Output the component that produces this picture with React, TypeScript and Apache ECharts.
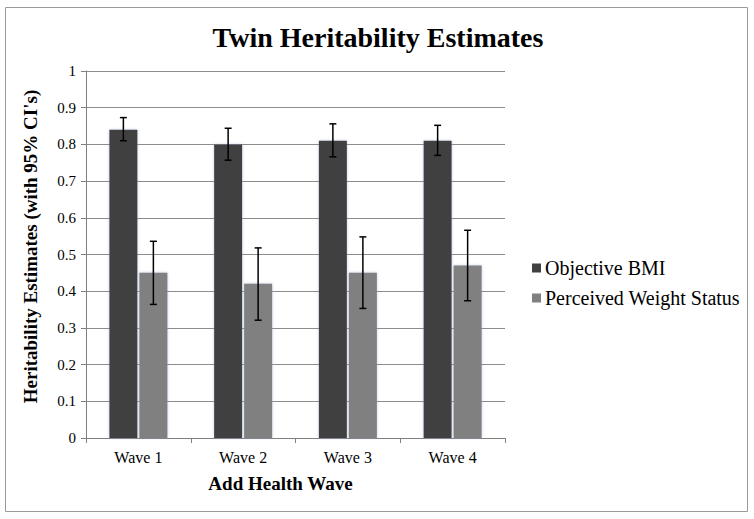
import React, { useEffect, useRef } from "react";
import * as echarts from "echarts";

const categories = ["Wave 1", "Wave 2", "Wave 3", "Wave 4"];
const objectiveBMI = [0.84, 0.8, 0.81, 0.81];
const objectiveLow = [0.81, 0.757, 0.766, 0.77];
const objectiveHigh = [0.873, 0.844, 0.856, 0.852];
const perceived = [0.45, 0.42, 0.45, 0.47];
const perceivedLow = [0.364, 0.321, 0.353, 0.374];
const perceivedHigh = [0.536, 0.518, 0.548, 0.566];
const seriesNames = ["Objective BMI", "Perceived Weight Status"];

const SERIF = "'Liberation Serif', 'Times New Roman', serif";
const BAR_W = 28;
const BAR_GAP_PX = 2;

export default function App() {
  const ref = useRef<HTMLDivElement>(null);
  useEffect(() => {
    if (!ref.current) return;
    const chart = echarts.init(ref.current, null, { renderer: "svg" });

    const makeErr = (low: number[], high: number[], side: number) => ({
      type: "custom",
      z: 10,
      silent: true,
      data: categories.map((_, i) => [i, low[i], high[i]]),
      renderItem: (params: any, api: any) => {
        const idx = api.value(0);
        const lo = api.coord([idx, api.value(1)]);
        const hi = api.coord([idx, api.value(2)]);
        const off = side * (BAR_W / 2 + BAR_GAP_PX / 2);
        const x = lo[0] + off;
        const cap = 3.5;
        const st = { stroke: "#000", lineWidth: 1.5 };
        return {
          type: "group",
          children: [
            { type: "line", shape: { x1: x, y1: lo[1], x2: x, y2: hi[1] }, style: st },
            { type: "line", shape: { x1: x - cap, y1: lo[1], x2: x + cap, y2: lo[1] }, style: st },
            { type: "line", shape: { x1: x - cap, y1: hi[1], x2: x + cap, y2: hi[1] }, style: st },
          ],
        };
      },
    });

    chart.setOption({
      animation: false,
      backgroundColor: "#fff",
      textStyle: { fontFamily: SERIF },
      title: {
        text: "Twin Heritability Estimates",
        left: 373,
        textAlign: "center",
        top: 18,
        textStyle: { fontFamily: SERIF, fontSize: 28, fontWeight: "bold", color: "#000" },
      },
      graphic: [
        {
          type: "rect",
          shape: { x: 5.5, y: 7.5, width: 742, height: 504 },
          style: { fill: "none", stroke: "#9a9a9a", lineWidth: 1 },
          silent: true,
        },
      ],
      legend: {
        orient: "vertical",
        left: 527,
        top: 253,
        itemWidth: 9,
        itemHeight: 9,
        itemGap: 10,
        icon: "rect",
        data: seriesNames,
        textStyle: { fontFamily: SERIF, fontSize: 20, color: "#000", padding: [0, 0, 0, -1] },
      },
      grid: { left: 86, right: 249, top: 71, bottom: 81, containLabel: false },
      xAxis: {
        type: "category",
        data: categories,
        name: "Add Health Wave",
        nameLocation: "middle",
        nameGap: 36,
        nameTextStyle: {
          fontFamily: SERIF,
          fontSize: 19,
          fontWeight: "bold",
          color: "#000",
          padding: [0, 30, 0, 0],
        },
        axisLine: { lineStyle: { color: "#808080", width: 1 } },
        axisTick: { show: true, length: 5, lineStyle: { color: "#808080" } },
        axisLabel: { fontFamily: SERIF, fontSize: 16, color: "#000", margin: 11 },
      },
      yAxis: {
        type: "value",
        min: 0,
        max: 1,
        interval: 0.1,
        name: "Heritability Estimates (with 95% CI's)",
        nameLocation: "middle",
        nameRotate: 90,
        nameGap: 46,
        nameTextStyle: {
          fontFamily: SERIF,
          fontSize: 19,
          fontWeight: "bold",
          color: "#000",
          padding: [0, 0, 0, 16],
        },
        axisLine: { show: true, lineStyle: { color: "#808080", width: 1 } },
        axisTick: { show: true, length: 5, lineStyle: { color: "#808080" } },
        axisLabel: {
          fontFamily: SERIF,
          fontSize: 15,
          color: "#000",
          margin: 10,
          formatter: (v: number) => String(Math.round(v * 10) / 10),
        },
        splitLine: { show: true, lineStyle: { color: "#8c8c8c", width: 1 } },
      },
      series: [
        {
          name: seriesNames[0],
          type: "bar",
          data: objectiveBMI,
          barWidth: BAR_W,
          barGap: `${(BAR_GAP_PX / BAR_W) * 100}%`,
          itemStyle: {
            color: "#404040",
            shadowBlur: 3,
            shadowColor: "rgba(140,160,200,0.55)",
          },
        },
        {
          name: seriesNames[1],
          type: "bar",
          data: perceived,
          barWidth: BAR_W,
          itemStyle: {
            color: "#808080",
            shadowBlur: 3,
            shadowColor: "rgba(140,160,200,0.55)",
          },
        },
        makeErr(objectiveLow, objectiveHigh, -1),
        makeErr(perceivedLow, perceivedHigh, 1),
      ],
    });
    return () => chart.dispose();
  }, []);

  return (
    <div
      ref={ref}
      style={{ position: "fixed", left: 0, top: 0, width: 754, height: 519 }}
    />
  );
}
